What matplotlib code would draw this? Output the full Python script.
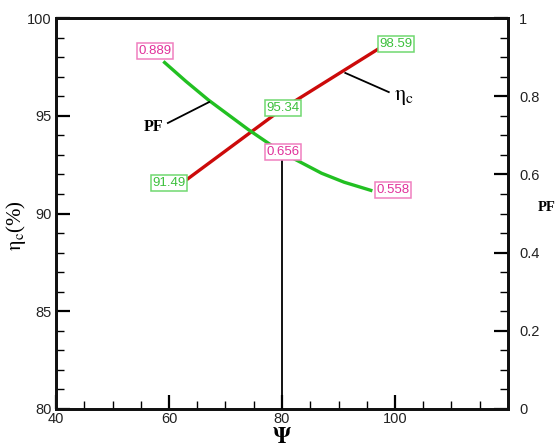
import matplotlib
matplotlib.use("Agg")
import matplotlib.pyplot as plt
from matplotlib.ticker import MultipleLocator, FixedLocator, FuncFormatter

plt.rcParams["mathtext.fontset"] = "stix"

# Power factor vs. Psi (right axis)
psi_pf = [59, 63, 67, 74, 80, 87, 91, 96]
pf = [0.889, 0.838, 0.790, 0.715, 0.656, 0.603, 0.580, 0.558]

# Efficiency vs. Psi (left axis)
psi_eta = [62, 80, 98]
eta = [91.49, 95.34, 98.59]

x_ticks = [40, 60, 80, 100]
y_ticks = [80, 85, 90, 95, 100]
y2_ticks = [0, 0.2, 0.4, 0.6, 0.8, 1.0]

W, H = 558, 447
fig = plt.figure(figsize=(W / 100, H / 100), dpi=100)
L, R, T, B = 56, 508, 18, 409
ax = fig.add_axes([L / W, 1 - B / H, (R - L) / W, (B - T) / H])
ax2 = ax.twinx()

ax.set_xlim(40, 120)
ax.set_ylim(80, 100)
ax2.set_ylim(0, 1)

ax.xaxis.set_major_locator(FixedLocator(x_ticks))
ax.xaxis.set_minor_locator(MultipleLocator(5))
ax.yaxis.set_major_locator(FixedLocator(y_ticks))
ax.yaxis.set_minor_locator(MultipleLocator(1))
ax2.yaxis.set_major_locator(FixedLocator(y2_ticks))
ax2.yaxis.set_minor_locator(MultipleLocator(0.05))
ax2.yaxis.set_major_formatter(FuncFormatter(lambda v, p: "0" if v == 0 else ("1" if v == 1 else f"{v:g}")))

ax.tick_params(axis="x", which="both", direction="in", top=False, width=1.6, pad=2)
ax.tick_params(axis="y", which="both", direction="in", right=False, width=1.6, pad=3)
ax.tick_params(which="major", length=10)
ax.tick_params(which="minor", length=6, width=1.0)
ax2.tick_params(axis="y", which="both", direction="in", width=1.6, pad=8)
ax2.tick_params(which="major", length=10)
ax2.tick_params(which="minor", length=6, width=1.0)

for a in (ax, ax2):
    for lab in a.get_xticklabels() + a.get_yticklabels():
        lab.set_fontfamily("Liberation Sans")
        lab.set_fontsize(10.5)
        lab.set_color("#222222")
    for s in a.spines.values():
        s.set_linewidth(2.0)
        s.set_color("#111111")

red = "#cc0a0a"
green = "#22c022"
ax.plot(psi_eta, eta, color=red, lw=2.4, solid_capstyle="butt", zorder=3)
ax2.plot(psi_pf, pf, color=green, lw=2.4, solid_capstyle="butt",
         solid_joinstyle="round", zorder=3)

# Leader lines
ax2.plot([80, 80], [80.05, 92.7], color="black", lw=1.3, zorder=4, transform=ax.transData)
ax2.plot([59.8, 67.1], [94.63, 95.70], color="black", lw=1.3, zorder=4, transform=ax.transData)
ax2.plot([91.2, 98.9], [97.19, 96.21], color="black", lw=1.3, zorder=4, transform=ax.transData)

ax2.text(57.3, 94.4, "PF", fontsize=11.5, fontweight="bold", family="Liberation Serif",
         ha="center", va="center", transform=ax.transData)
ax2.text(101.6, 95.95, r"$\mathrm{\eta_c}$", fontsize=16, ha="center", va="center",
         transform=ax.transData)

# Value boxes
magenta = "#e0309a"
pink_edge = "#f080c0"
lgreen = "#3cc03c"
green_edge = "#70d870"

def box_label(x, y, s, tc, ec):
    ax2.text(x, y, s, fontsize=9.5, family="Liberation Sans", color=tc,
             ha="center", va="center", zorder=6, transform=ax.transData,
             bbox=dict(boxstyle="square,pad=0.12", fc="white", ec=ec, lw=1.1))

box_label(57.5, 98.31, f"{pf[0]:.3f}", magenta, pink_edge)
box_label(80.2, 93.15, f"{pf[4]:.3f}", magenta, pink_edge)
box_label(99.6, 91.2, f"{pf[-1]:.3f}", magenta, pink_edge)
box_label(100.2, 98.67, f"{eta[2]:.2f}", lgreen, green_edge)
box_label(80.2, 95.40, f"{eta[1]:.2f}", lgreen, green_edge)
box_label(60.0, 91.56, f"{eta[0]:.2f}", lgreen, green_edge)

# Axis titles
fig.text(16 / W, 1 - 226 / H, r"$\mathrm{\eta_c}$(%)", rotation=90, fontsize=15,
         ha="center", va="center", family="Liberation Serif")
fig.text(282 / W, 1 - 437 / H, r"$\mathbf{\Psi}$", fontsize=16, ha="center", va="center")
fig.text(538 / W, 1 - 208 / H, "PF", fontsize=10.5, fontweight="bold",
         family="Liberation Serif", ha="left", va="center")

fig.savefig("out.png", dpi=100, facecolor="white")
